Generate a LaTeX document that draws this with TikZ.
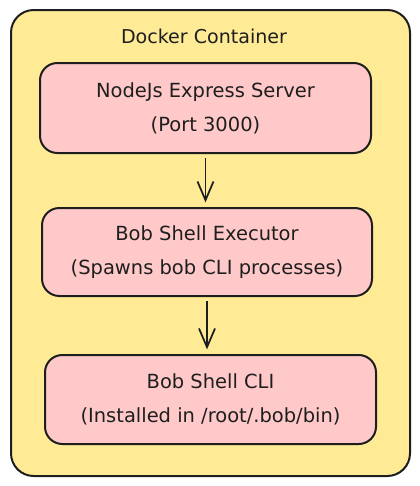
\documentclass[tikz,border=0pt]{standalone}
\usepackage{fontspec}
\setmainfont{DejaVu Sans}
\usetikzlibrary{arrows.meta}
\definecolor{stroke}{HTML}{1E1E1E}
\definecolor{yellowfill}{HTML}{FFEA96}
\definecolor{pinkfill}{HTML}{FFC9C9}
\begin{document}
\begin{tikzpicture}[x=0.75pt,y=-0.75pt,
  container/.style={draw=stroke, fill=yellowfill, line width=1.5pt, rounded corners=17pt, inner sep=0pt},
  procbox/.style={draw=stroke, fill=pinkfill, line width=1.5pt, rounded corners=13pt, align=center,
    font=\fontsize{14.6}{25.5}\selectfont, text=stroke, inner sep=0pt},
  title/.style={font=\fontsize{14.3}{17}\selectfont, text=stroke},
  flow/.style={draw=stroke, line width=1.3pt, -{Straight Barb[length=14pt,width=12pt,line width=1.3pt]},
    shorten <=3pt, shorten >=3.5pt}
]
\useasboundingbox (0,0) rectangle (420,486);
\node[container, minimum width=299.25pt, minimum height=349.5pt] (cont) at (210.5,243) {};
\node[title] (ttl) at (204,36) {Docker Container};
\node[procbox, minimum width=248.25pt, minimum height=67.5pt] (b1) at (205.5,108)
  {NodeJs Express Server\\(Port 3000)};
\node[procbox, minimum width=247.5pt, minimum height=66pt] (b2) at (207,252)
  {Bob Shell Executor\\(Spawns bob CLI processes)};
\node[procbox, minimum width=248.25pt, minimum height=66.75pt] (b3) at (210.5,399.5)
  {Bob Shell CLI\\(Installed in /root/.bob/bin)};
\draw[flow] (b1.south) -- (b1.south |- b2.north);
\draw[flow] (b2.south) -- (b2.south |- b3.north);
\end{tikzpicture}
\end{document}
